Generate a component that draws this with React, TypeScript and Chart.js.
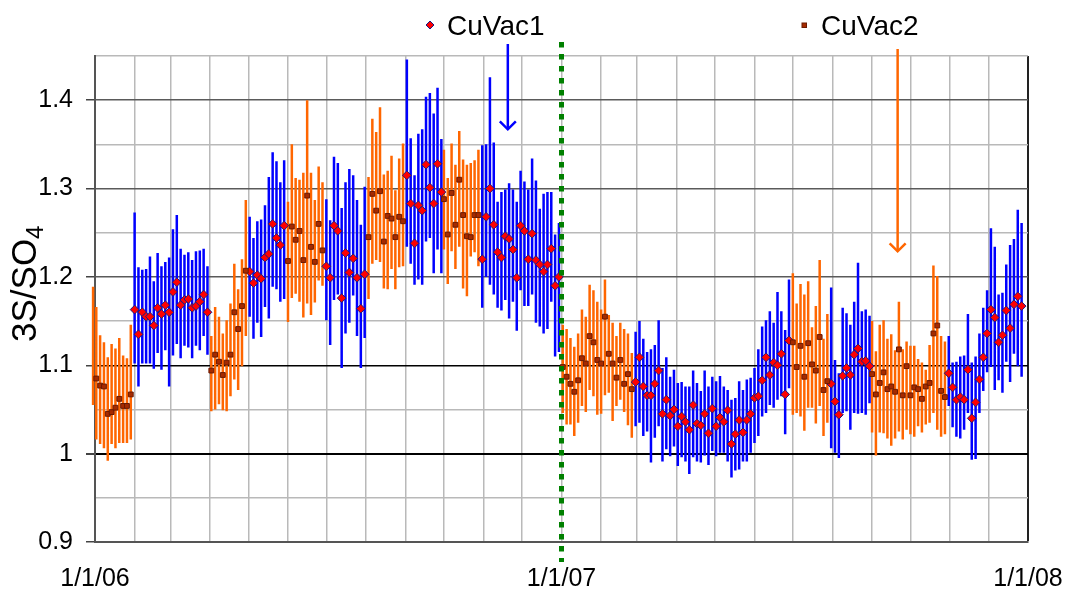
import React, { useEffect, useRef } from 'react';
import { Chart, registerables } from 'chart.js';

Chart.register(...registerables);

const FONT = '"Liberation Sans", Arial, Helvetica, sans-serif';
const BLUE = '#0000ff';
const ORANGE = '#ff6600';

// x axis: days since 1/1/06
const monthTickDays = [0, 31, 59, 90, 120, 151, 181, 212, 243, 273, 304, 334, 365, 396, 424, 455, 485, 516, 546, 577, 608, 638, 669, 699, 730];
const xLabelDays = [0, 365, 730];
const xLabels = ['1/1/06', '1/1/07', '1/1/08'];

const yTickValues = [0.9, 0.95, 1.0, 1.05, 1.1, 1.15, 1.2, 1.25, 1.3, 1.35, 1.4, 1.45];
const yMajorTicks = [0.9, 1.0, 1.1, 1.2, 1.3, 1.4];
const yMajorLabels = ['0.9', '1', '1.1', '1.2', '1.3', '1.4'];

// CuVac1 (diamonds, blue error bars)
const cuvac1Days = [
  31, 34, 37, 40, 43, 46, 49, 52, 55, 58, 61, 64, 67, 70, 73, 76, 79, 82, 85, 88,
  121, 124, 127, 130, 133, 136, 139, 142, 145, 148,
  181, 184, 187, 190, 193, 196, 199, 202, 205, 208, 211,
  244, 247, 250, 253, 256, 259, 262, 265, 268, 271,
  303, 306, 309, 312, 315, 318, 321, 324, 327, 330, 333, 336, 339, 342, 345, 348, 351, 354, 357, 360, 363,
  423, 426, 429, 432, 435, 438, 441, 444, 447, 450, 453, 456, 459, 462, 465, 468, 471, 474, 477, 480, 483, 486, 489, 492, 495, 498, 501, 504, 507, 510, 513, 516, 519, 522, 525, 528, 531, 534, 537, 540, 543,
  576, 579, 582, 585, 588, 591, 594, 597, 600, 603, 606,
  668, 671, 674, 677, 680, 683, 686, 689, 692, 695, 698, 701, 704, 707, 710, 713, 716, 719, 722, 725,
];
const cuvac1Values = [
  1.163, 1.135, 1.160, 1.155, 1.155, 1.145, 1.165, 1.158, 1.168, 1.160, 1.183, 1.194, 1.168, 1.174, 1.175, 1.165, 1.167, 1.172, 1.180, 1.160,
  1.206, 1.193, 1.202, 1.198, 1.222, 1.226, 1.260, 1.244, 1.236, 1.258,
  1.212, 1.199, 1.258, 1.252, 1.176, 1.227, 1.205, 1.221, 1.199, 1.164, 1.203,
  1.315, 1.283, 1.238, 1.281, 1.275, 1.327, 1.301, 1.283, 1.328, 1.296,
  1.220, 1.268, 1.300, 1.259, 1.228, 1.222, 1.246, 1.243, 1.231, 1.199, 1.258, 1.252, 1.220, 1.249, 1.219, 1.214, 1.206, 1.214, 1.232, 1.190, 1.200,
  1.081, 1.109, 1.076, 1.066, 1.066, 1.079, 1.094, 1.045, 1.061, 1.043, 1.050, 1.031, 1.042, 1.036, 1.027, 1.055, 1.034, 1.032, 1.045, 1.023, 1.051, 1.031, 1.041, 1.036, 1.049, 1.011, 1.022, 1.038, 1.024, 1.038, 1.045, 1.063, 1.065, 1.083, 1.109, 1.089, 1.103, 1.100, 1.113, 1.067, 1.128,
  1.079, 1.059, 1.044, 1.088, 1.097, 1.089, 1.112, 1.119, 1.104, 1.105, 1.099,
  1.091, 1.075, 1.061, 1.064, 1.061, 1.095, 1.040, 1.058, 1.084, 1.109, 1.136, 1.163, 1.154, 1.126, 1.134, 1.162, 1.142, 1.169, 1.178, 1.167,
];
const cuvac1High = [
  1.273, 1.211, 1.208, 1.209, 1.223, 1.195, 1.227, 1.212, 1.217, 1.222, 1.254, 1.270, 1.232, 1.225, 1.228, 1.219, 1.229, 1.230, 1.232, 1.212,
  1.268, 1.244, 1.263, 1.265, 1.281, 1.313, 1.341, 1.331, 1.307, 1.332,
  1.288, 1.264, 1.336, 1.329, 1.278, 1.307, 1.322, 1.315, 1.287, 1.259, 1.302,
  1.446, 1.357, 1.315, 1.362, 1.367, 1.404, 1.408, 1.385, 1.414, 1.356,
  1.349, 1.350, 1.426, 1.352, 1.285, 1.296, 1.299, 1.306, 1.299, 1.285, 1.320, 1.308, 1.299, 1.334, 1.309, 1.277, 1.294, 1.296, 1.296, 1.248, 1.261,
  1.138, 1.150, 1.130, 1.115, 1.118, 1.123, 1.151, 1.097, 1.109, 1.087, 1.095, 1.080, 1.081, 1.076, 1.076, 1.094, 1.080, 1.071, 1.094, 1.076, 1.087, 1.082, 1.088, 1.076, 1.072, 1.061, 1.063, 1.082, 1.072, 1.084, 1.086, 1.097, 1.118, 1.144, 1.151, 1.161, 1.148, 1.183, 1.161, 1.140, 1.197,
  1.188, 1.106, 1.091, 1.165, 1.159, 1.146, 1.172, 1.216, 1.161, 1.163, 1.156,
  1.133, 1.103, 1.104, 1.110, 1.111, 1.158, 1.103, 1.110, 1.136, 1.165, 1.185, 1.255, 1.234, 1.180, 1.182, 1.214, 1.236, 1.243, 1.276, 1.261,
];
const cuvac1Low = [
  1.102, 1.076, 1.102, 1.102, 1.102, 1.096, 1.114, 1.095, 1.117, 1.076, 1.111, 1.124, 1.108, 1.122, 1.120, 1.108, 1.122, 1.117, 1.133, 1.112,
  1.155, 1.130, 1.148, 1.132, 1.166, 1.153, 1.189, 1.186, 1.172, 1.175,
  1.151, 1.123, 1.174, 1.180, 1.097, 1.136, 1.148, 1.179, 1.133, 1.097, 1.131,
  1.234, 1.215, 1.191, 1.197, 1.191, 1.240, 1.244, 1.204, 1.231, 1.204,
  1.165, 1.200, 1.191, 1.180, 1.165, 1.162, 1.174, 1.153, 1.172, 1.139, 1.185, 1.167, 1.167, 1.180, 1.148, 1.144, 1.136, 1.141, 1.172, 1.110, 1.115,
  1.031, 1.035, 1.020, 1.025, 0.990, 1.018, 1.031, 0.991, 1.005, 0.997, 1.008, 0.986, 0.996, 0.991, 0.977, 0.996, 0.991, 0.990, 0.998, 0.987, 1.003, 0.997, 1.001, 1.001, 0.991, 0.973, 0.981, 0.982, 0.991, 0.991, 1.001, 1.012, 1.020, 1.042, 1.046, 1.055, 1.052, 1.061, 1.065, 1.022, 1.074,
  1.006, 1.001, 0.995, 1.046, 1.048, 1.027, 1.046, 1.045, 1.046, 1.044, 1.057,
  1.054, 1.030, 1.019, 1.017, 1.027, 1.046, 0.993, 0.994, 1.046, 1.071, 1.092, 1.098, 1.072, 1.083, 1.069, 1.104, 1.081, 1.113, 1.099, 1.087,
];

// CuVac2 (squares, orange error bars)
const cuvac2Days = [
  -1.5, 1, 4, 7, 10, 13, 16, 19, 22, 25, 28,
  91, 94, 97, 100, 103, 106, 109, 112, 115, 118,
  151, 154, 157, 160, 163, 166, 169, 172, 175, 178,
  214, 217, 220, 223, 226, 229, 232, 235, 238, 241,
  273, 276, 279, 282, 285, 288, 291, 294, 297, 300,
  366, 369, 372, 375, 378, 381, 384, 387, 390, 393, 396, 399, 402, 405, 408, 411, 414, 417, 420,
  546, 549, 552, 555, 558, 561, 564, 567, 570, 573,
  608, 611, 614, 617, 620, 623, 626, 629, 632, 635, 638, 641, 644, 647, 650, 653, 656, 659, 662, 665,
];
const cuvac2Values = [
  null, 1.085, 1.077, 1.076, 1.045, 1.047, 1.052, 1.062, 1.054, 1.054, 1.067,
  1.094, 1.112, 1.104, 1.089, 1.103, 1.112, 1.160, 1.141, 1.167, 1.207,
  1.218, 1.257, 1.242, 1.252, 1.219, 1.292, 1.234, 1.217, 1.260, 1.230,
  1.245, 1.294, 1.275, 1.297, 1.240, 1.269, 1.266, 1.245, 1.268, 1.263,
  1.288, 1.248, 1.295, 1.259, 1.310, 1.270, 1.246, 1.245, 1.270, 1.270,
  1.098, 1.087, 1.079, 1.070, 1.083, 1.108, 1.102, 1.133, 1.126, 1.106, 1.102, 1.155, 1.113, 1.102, 1.086, 1.106, 1.079, 1.090, 1.073,
  1.126, 1.098, 1.122, 1.087, 1.125, 1.101, 1.094, 1.132, 1.072, 1.082,
  1.090, 1.067, 1.080, 1.092, 1.073, 1.076, 1.070, 1.118, 1.066, 1.099, 1.066, 1.075, 1.073, 1.062, 1.076, 1.080, 1.136, 1.145, 1.071, 1.064,
];
const cuvac2High = [
  1.189, 1.166, 1.134, 1.126, 1.109, 1.124, 1.119, 1.131, 1.111, 1.108, 1.146,
  1.133, 1.166, 1.155, 1.136, 1.151, 1.170, 1.215, 1.186, 1.220, 1.287,
  1.285, 1.350, 1.312, 1.310, 1.318, 1.400, 1.318, 1.287, 1.325, 1.307,
  1.313, 1.379, 1.364, 1.392, 1.316, 1.320, 1.337, 1.298, 1.334, 1.351,
  1.344, 1.312, 1.351, 1.327, 1.365, 1.333, 1.327, 1.329, 1.332, 1.344,
  1.146, 1.141, 1.131, 1.121, 1.136, 1.163, 1.155, 1.191, 1.185, 1.172, 1.163, 1.197, 1.157, 1.148, 1.133, 1.148, 1.141, 1.136, 1.114,
  1.204, 1.170, 1.192, 1.180, 1.195, 1.143, 1.167, 1.219, 1.130, 1.158,
  1.150, 1.116, 1.146, 1.151, 1.130, 1.135, 1.117, 1.172, 1.118, 1.127, 1.122, 1.122, 1.107, 1.103, 1.095, 1.123, 1.213, 1.201, 1.133, 1.127,
];
const cuvac2Low = [
  1.055, 1.016, 1.011, 1.006, 0.992, 1.011, 1.006, 1.012, 1.012, 1.012, 1.016,
  1.048, 1.050, 1.056, 1.049, 1.048, 1.065, 1.084, 1.072, 1.099, 1.133,
  1.149, 1.176, 1.181, 1.172, 1.154, 1.170, 1.157, 1.171, 1.196, 1.190,
  1.175, 1.215, 1.219, 1.217, 1.187, 1.186, 1.209, 1.186, 1.211, 1.212,
  1.231, 1.192, 1.229, 1.209, 1.234, 1.187, 1.178, 1.223, 1.228, 1.212,
  1.046, 1.033, 1.033, 1.020, 1.035, 1.054, 1.047, 1.072, 1.065, 1.044, 1.045, 1.066, 1.069, 1.037, 1.054, 1.061, 1.047, 1.032, 1.018,
  1.044, 1.046, 1.042, 1.026, 1.052, 1.052, 1.034, 1.054, 1.020, 1.035,
  1.024, 0.998, 1.024, 1.023, 1.017, 1.009, 1.017, 1.025, 1.016, 1.027, 1.022, 1.019, 1.031, 1.024, 1.033, 1.035, 1.046, 1.027, 1.019, 1.022,
];

// annotation anchors (data coordinates)
const dividerDay = 365;
const blueArrow = { day: 323, tip: 1.367 };
const orangeArrow = { day: 628, tip: 1.229 };

const near = (a: number, b: number) => Math.abs(a - b) < 1e-6;
const isMajorY = (v: number) => yMajorTicks.some((t) => near(t, v));

function drawArrow(ctx: CanvasRenderingContext2D, x: number, y0: number, y1: number, color: string) {
  ctx.save();
  ctx.strokeStyle = color;
  ctx.lineWidth = 2.5;
  ctx.beginPath();
  ctx.moveTo(x, y0);
  ctx.lineTo(x, y1);
  ctx.stroke();
  ctx.beginPath();
  ctx.moveTo(x - 8, y1 - 8);
  ctx.lineTo(x, y1);
  ctx.lineTo(x + 8, y1 - 8);
  ctx.stroke();
  ctx.restore();
}

const decorPlugin = {
  id: 'decor',
  beforeDatasetsDraw(chart: any) {
    const { ctx, scales } = chart;
    const x = scales.x;
    const y = scales.y;
    ctx.save();
    ctx.lineCap = 'butt';
    const bars = (days: number[], lows: number[], highs: number[], color: string) => {
      ctx.strokeStyle = color;
      ctx.lineWidth = 2.5;
      ctx.beginPath();
      for (let i = 0; i < days.length; i++) {
        const px = x.getPixelForValue(days[i]);
        ctx.moveTo(px, y.getPixelForValue(lows[i]));
        ctx.lineTo(px, y.getPixelForValue(highs[i]));
      }
      ctx.stroke();
    };
    bars(cuvac2Days, cuvac2Low, cuvac2High, ORANGE);
    bars(cuvac1Days, cuvac1Low, cuvac1High, BLUE);
    ctx.restore();
  },
  afterDatasetsDraw(chart: any) {
    const { ctx, scales } = chart;
    const x = scales.x;
    const y = scales.y;
    ctx.save();
    const gx = x.getPixelForValue(dividerDay);
    ctx.strokeStyle = '#008000';
    ctx.lineWidth = 5;
    ctx.setLineDash([5.5, 6.5]);
    ctx.beginPath();
    ctx.moveTo(gx, 42);
    ctx.lineTo(gx, 562);
    ctx.stroke();
    ctx.restore();
    drawArrow(ctx, x.getPixelForValue(blueArrow.day), 44, y.getPixelForValue(blueArrow.tip), BLUE);
    drawArrow(ctx, x.getPixelForValue(orangeArrow.day), 49, y.getPixelForValue(orangeArrow.tip), ORANGE);
  },
  afterDraw(chart: any) {
    const { ctx } = chart;
    ctx.save();
    // legend
    ctx.fillStyle = '#ff0000';
    ctx.strokeStyle = '#1a1a80';
    ctx.lineWidth = 1;
    ctx.beginPath();
    ctx.moveTo(430, 21);
    ctx.lineTo(434, 25);
    ctx.lineTo(430, 29);
    ctx.lineTo(426, 25);
    ctx.closePath();
    ctx.fill();
    ctx.stroke();
    ctx.fillStyle = '#a52a00';
    ctx.strokeStyle = '#6b1a00';
    ctx.fillRect(802, 23, 4.5, 4.5);
    ctx.strokeRect(802, 23, 4.5, 4.5);
    ctx.fillStyle = '#000';
    ctx.font = `28px ${FONT}`;
    ctx.textBaseline = 'alphabetic';
    ctx.textAlign = 'left';
    ctx.fillText('CuVac1', 447, 35);
    ctx.fillText('CuVac2', 821, 35);
    // y axis title with subscript
    ctx.translate(36, 342);
    ctx.rotate(-Math.PI / 2);
    ctx.font = `35px ${FONT}`;
    ctx.fillText('3S/SO', 0, 0);
    const w = ctx.measureText('3S/SO').width;
    ctx.font = `24px ${FONT}`;
    ctx.fillText('4', w, 7);
    ctx.restore();
  },
};

export default function App() {
  const canvasRef = useRef<HTMLCanvasElement | null>(null);

  useEffect(() => {
    document.body.style.margin = '0';
    const canvas = canvasRef.current;
    if (!canvas) return;
    const chart = new Chart(canvas, {
      type: 'scatter',
      data: {
        datasets: [
          {
            label: 'CuVac2',
            data: cuvac2Days.map((d, i) => ({ x: d, y: cuvac2Values[i] })) as any,
            pointStyle: 'rect',
            pointRadius: 3.4,
            backgroundColor: '#a52a00',
            borderColor: '#6b1a00',
            borderWidth: 1,
            showLine: false,
            clip: false as any,
          },
          {
            label: 'CuVac1',
            data: cuvac1Days.map((d, i) => ({ x: d, y: cuvac1Values[i] })),
            pointStyle: 'rectRot',
            pointRadius: 4.4,
            backgroundColor: '#ff0000',
            borderColor: '#1a1a80',
            borderWidth: 1,
            showLine: false,
            clip: false as any,
          },
        ],
      },
      options: {
        responsive: false,
        animation: false,
        devicePixelRatio: 1,
        layout: { padding: { top: 56, right: 37, left: 0, bottom: 0 } },
        plugins: {
          legend: { display: false },
          tooltip: { enabled: false },
        },
        scales: {
          x: {
            type: 'linear',
            min: 0,
            max: 730,
            afterBuildTicks: (scale: any) => {
              scale.ticks = monthTickDays.map((v) => ({ value: v }));
            },
            afterFit: (scale: any) => {
              scale.height = 52;
              scale.paddingLeft = 0;
              scale.paddingRight = 0;
            },
            grid: {
              drawTicks: false,
              color: (c: any) => (c.tick && c.tick.value === 730 ? '#222222' : '#b9b9b9'),
              lineWidth: (c: any) => (c.tick && c.tick.value === 730 ? 2 : 1.5),
            },
            border: { color: '#555555', width: 2 },
            ticks: {
              autoSkip: false,
              maxRotation: 0,
              minRotation: 0,
              padding: 22,
              color: '#000',
              font: { family: FONT, size: 25 },
              callback: (value: any) => {
                const idx = xLabelDays.indexOf(Number(value));
                return idx >= 0 ? xLabels[idx] : '';
              },
            },
          },
          y: {
            min: 0.9,
            max: 1.45,
            afterBuildTicks: (scale: any) => {
              scale.ticks = yTickValues.map((v) => ({ value: v }));
            },
            afterFit: (scale: any) => {
              scale.width = 95;
              scale.paddingTop = 0;
              scale.paddingBottom = 0;
            },
            grid: {
              tickLength: 9,
              color: (c: any) => {
                const v = c.tick ? c.tick.value : 0;
                if (near(v, 1.0) || near(v, 1.1)) return '#000000';
                if (isMajorY(v)) return '#5a5a5a';
                return '#b9b9b9';
              },
              lineWidth: (c: any) => {
                const v = c.tick ? c.tick.value : 0;
                if (near(v, 1.0)) return 2;
                return 1.5;
              },
              tickColor: (c: any) => {
                const v = c.tick ? c.tick.value : 0;
                return isMajorY(v) ? '#444444' : 'rgba(0,0,0,0)';
              },
            },
            border: { color: '#555555', width: 2 },
            ticks: {
              padding: 13,
              color: '#000',
              font: { family: FONT, size: 25 },
              callback: (value: any) => {
                const idx = yMajorTicks.findIndex((t) => near(t, Number(value)));
                return idx >= 0 ? yMajorLabels[idx] : '';
              },
            },
          },
        },
      },
      plugins: [decorPlugin],
    });
    return () => chart.destroy();
  }, []);

  return (
    <div style={{ width: 1065, height: 594, position: 'relative', background: '#fff' }}>
      <canvas ref={canvasRef} width={1065} height={594} style={{ display: 'block', width: 1065, height: 594 }} />
    </div>
  );
}
